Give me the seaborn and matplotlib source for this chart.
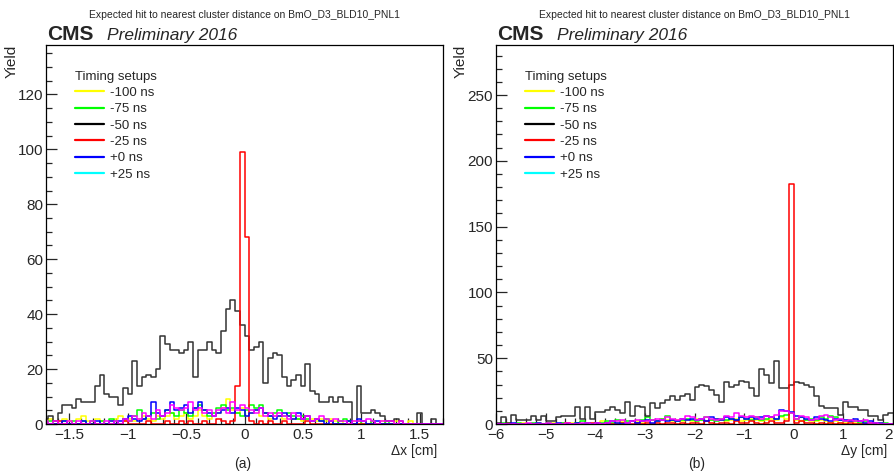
import numpy as np
import seaborn as sns
import matplotlib.pyplot as plt
from matplotlib.lines import Line2D
from matplotlib.ticker import MultipleLocator, FuncFormatter

sns.set_style('ticks')
plt.rcParams['font.family'] = ['Liberation Sans', 'DejaVu Sans']

############ DATA ############

setups = ['-100 ns', '-75 ns', '-50 ns', '-25 ns', '+0 ns', '+25 ns']
legend_colors = ['#ffff00', '#00ff00', '#000000', '#ff0000', '#0000ff', '#00ffff']
# the +25 ns histogram is drawn in magenta on the plot itself
line_colors = ['#ffff00', '#00ff00', '#333333', '#ff0000', '#0000ff', '#ff00ff']

# panel (a): delta x, 86 bins of 0.04 cm from -1.72 to 1.72
dx_lo, dx_hi, dx_nbins = -1.72, 1.72, 86
dx_yellow = [1, 2, 1, 0, 2, 1, 0, 2, 3, 1,
             0, 2, 1, 0, 1, 2, 3, 1, 2, 1,
             2, 3, 2, 1, 3, 2, 3, 4, 2, 3,
             4, 2, 3, 5, 3, 2, 3, 4, 6, 9,
             5, 4, 6, 3, 4, 5, 3, 4, 2, 3,
             3, 2, 3, 2, 2, 1, 3, 2, 1, 2,
             1, 2, 1, 1, 0, 1, 1, 0, 1, 0,
             1, 0, 1, 0, 0, 1, 0, 0, 1, 0,
             0, 0, 0, 0, 0, 0]
dx_green = [0, 1, 0, 0, 1, 0, 1, 0, 1, 0,
            1, 0, 1, 0, 2, 1, 0, 2, 1, 3,
            5, 2, 3, 4, 2, 3, 5, 4, 3, 5,
            4, 3, 6, 7, 5, 3, 4, 6, 7, 5,
            6, 4, 3, 5, 7, 6, 7, 4, 3, 4,
            5, 3, 4, 3, 2, 3, 2, 1, 2, 1,
            2, 1, 0, 1, 2, 1, 0, 1, 0, 0,
            1, 0, 0, 1, 0, 0, 0, 0, 0, 0,
            0, 0, 0, 0, 0, 0]
dx_black = [2, 3, 1, 4, 7, 7, 6, 9, 8, 8,
            8, 14, 18, 11, 10, 10, 7, 13, 11, 23,
            14, 17, 18, 17, 20, 32, 29, 27, 27, 26,
            27, 30, 17, 27, 27, 30, 27, 26, 34, 42,
            45, 41, 36, 32, 27, 28, 30, 15, 24, 26,
            25, 17, 14, 16, 18, 14, 22, 12, 11, 8,
            8, 10, 8, 10, 8, 8, 0, 14, 4, 4,
            5, 4, 3, 1, 1, 2, 1, 0, 0, 0,
            4, 0, 0, 2, 0, 0]
dx_red = [0, 0, 0, 1, 0, 0, 0, 0, 0, 0,
          0, 0, 0, 0, 0, 0, 0, 1, 0, 0,
          0, 0, 1, 0, 0, 0, 1, 0, 0, 1,
          0, 1, 0, 0, 1, 0, 0, 2, 1, 0,
          1, 14, 99, 68, 1, 0, 1, 0, 1, 0,
          0, 1, 0, 0, 0, 0, 1, 0, 0, 0,
          0, 0, 0, 0, 0, 0, 0, 0, 0, 0,
          0, 0, 0, 0, 0, 0, 0, 0, 0, 0,
          0, 0, 0, 0, 0, 0]
dx_blue = [0, 0, 0, 0, 1, 0, 0, 0, 1, 0,
           0, 1, 0, 0, 1, 0, 1, 2, 3, 2,
           1, 2, 3, 8, 4, 3, 5, 8, 5, 6,
           7, 4, 6, 8, 5, 4, 3, 4, 5, 6,
           4, 6, 5, 3, 4, 5, 6, 4, 3, 2,
           3, 4, 3, 2, 4, 2, 3, 1, 2, 1,
           0, 1, 0, 0, 0, 1, 0, 2, 1, 0,
           0, 1, 0, 0, 0, 0, 0, 0, 0, 0,
           0, 0, 0, 0, 0, 0]
dx_magenta = [1, 0, 1, 0, 0, 1, 0, 1, 0, 0,
              1, 0, 0, 1, 0, 1, 0, 2, 1, 3,
              2, 4, 3, 2, 5, 3, 4, 7, 6, 5,
              6, 8, 5, 6, 4, 5, 3, 5, 6, 4,
              8, 5, 7, 6, 5, 4, 6, 3, 4, 3,
              4, 3, 2, 4, 3, 2, 3, 1, 2, 3,
              2, 1, 2, 1, 1, 0, 1, 1, 1, 2,
              1, 0, 1, 1, 1, 0, 1, 0, 0, 0,
              0, 0, 0, 0, 0, 0]

# panel (b): delta y, 80 bins of 0.1 cm from -6 to 2
dy_lo, dy_hi, dy_nbins = -6.0, 2.0, 80
dy_yellow = [0, 0, 1, 0, 0, 1, 0, 0, 1, 0,
             0, 1, 0, 1, 0, 1, 1, 0, 1, 0,
             1, 2, 1, 0, 1, 2, 1, 2, 2, 1,
             2, 3, 2, 4, 3, 2, 3, 2, 3, 2,
             4, 3, 2, 3, 4, 3, 2, 3, 4, 2,
             3, 4, 3, 2, 3, 4, 3, 5, 4, 8,
             3, 2, 3, 2, 2, 3, 2, 1, 2, 1,
             1, 2, 1, 0, 1, 1, 0, 1, 0, 0]
dy_green = [0, 1, 0, 0, 1, 0, 0, 1, 0, 0,
            1, 0, 0, 1, 1, 0, 1, 2, 1, 0,
            1, 1, 2, 1, 3, 1, 2, 2, 1, 3,
            5, 3, 2, 4, 6, 3, 2, 3, 4, 3,
            2, 3, 5, 3, 2, 4, 3, 4, 3, 5,
            4, 3, 5, 3, 4, 5, 4, 6, 7, 8,
            4, 5, 3, 4, 3, 5, 4, 6, 5, 3,
            2, 3, 2, 1, 2, 1, 1, 0, 1, 0]
dy_black = [1, 5, 1, 7, 3, 3, 3, 6, 3, 6,
            2, 2, 5, 6, 6, 6, 13, 4, 13, 4,
            9, 9, 11, 13, 11, 8, 17, 6, 14, 13,
            6, 16, 12, 16, 18, 21, 18, 21, 23, 18,
            28, 30, 29, 26, 22, 17, 32, 28, 30, 33,
            32, 27, 21, 42, 37, 31, 48, 27, 27, 30,
            32, 31, 30, 28, 21, 14, 12, 12, 12, 7,
            17, 13, 13, 11, 11, 6, 6, 3, 7, 8]
dy_red = [0, 0, 0, 0, 0, 0, 0, 0, 0, 0,
          0, 0, 0, 0, 1, 0, 0, 0, 0, 1,
          0, 0, 1, 0, 0, 1, 0, 0, 1, 0,
          1, 0, 1, 0, 1, 1, 0, 1, 0, 1,
          1, 0, 2, 1, 0, 1, 1, 0, 2, 1,
          1, 2, 1, 0, 1, 2, 1, 1, 2, 182,
          1, 2, 1, 1, 0, 1, 0, 1, 0, 1,
          0, 1, 0, 0, 0, 1, 0, 0, 0, 0]
dy_blue = [0, 0, 0, 1, 0, 0, 0, 0, 1, 0,
           0, 0, 1, 0, 0, 0, 1, 0, 1, 0,
           1, 0, 1, 2, 1, 0, 1, 2, 1, 2,
           3, 1, 2, 3, 2, 3, 2, 4, 3, 4,
           3, 4, 2, 5, 4, 3, 5, 4, 3, 5,
           4, 5, 4, 5, 6, 5, 4, 11, 10, 9,
           6, 5, 4, 3, 5, 4, 3, 2, 4, 3,
           3, 2, 4, 2, 1, 2, 1, 1, 0, 0]
dy_magenta = [0, 0, 0, 0, 0, 0, 1, 0, 0, 0,
              1, 0, 0, 0, 1, 0, 0, 1, 1, 0,
              1, 0, 1, 2, 2, 3, 1, 2, 3, 2,
              2, 3, 4, 3, 5, 4, 3, 4, 6, 5,
              3, 4, 5, 4, 3, 4, 6, 5, 8, 6,
              5, 6, 5, 4, 6, 5, 7, 10, 10, 8,
              4, 6, 5, 3, 4, 6, 7, 5, 3, 4,
              2, 3, 2, 2, 3, 1, 1, 0, 0, 0]

title = 'Expected hit to nearest cluster distance on BmO_D3_BLD10_PNL1'

############ PLOT ############

fig = plt.figure(figsize=(8.94, 4.75), dpi=100)
ax_a = fig.add_axes([46 / 894, 1 - 424 / 475, 397 / 894, 379 / 475])
ax_b = fig.add_axes([496 / 894, 1 - 424 / 475, 397 / 894, 379 / 475])

# ROOT style labels: 1, 0.5, -1.5 (no trailing .0)
root_fmt = FuncFormatter(lambda v, pos: f'{v:g}'.replace('-', '\u2212'))


def draw_panel(ax, edges, series, xlim, ymax, xmajor, xminor, ymajor, yminor, xlabel, ylabel_x):
    centers = (edges[:-1] + edges[1:]) / 2
    for vals, col in zip(series, line_colors):
        sns.histplot(x=centers, weights=np.asarray(vals, dtype=float), bins=edges.tolist(),
                     element='step', fill=False, color=col, linewidth=1.1, ax=ax)
    ax.set_xlim(*xlim)
    ax.set_ylim(0, ymax)
    ax.xaxis.set_major_locator(MultipleLocator(xmajor))
    ax.xaxis.set_minor_locator(MultipleLocator(xminor))
    ax.yaxis.set_major_locator(MultipleLocator(ymajor))
    ax.yaxis.set_minor_locator(MultipleLocator(yminor))
    ax.xaxis.set_major_formatter(root_fmt)
    ax.tick_params(which='both', direction='in', top=False, right=False, width=0.9, labelsize=11)
    ax.tick_params(which='major', length=8)
    ax.tick_params(which='minor', length=4)
    ax.tick_params(axis='y', pad=2)
    ax.tick_params(axis='x', pad=3)
    for sp in ax.spines.values():
        sp.set_visible(True)
        sp.set_color('black')
        sp.set_linewidth(0.9)

    ax.set_xlabel(xlabel, fontsize=10, loc='right')
    ax.xaxis.set_label_coords(0.986, -0.052)
    ax.set_ylabel('Yield', fontsize=11, loc='top')
    ax.yaxis.set_label_coords(ylabel_x, 1.0)

    ax.text(0.5, 1.072, title, transform=ax.transAxes, ha='center', va='baseline', fontsize=7.5)
    ax.text(0.002, 1.013, 'CMS', transform=ax.transAxes, ha='left', va='baseline',
            fontsize=15, fontweight='bold')
    ax.text(0.154, 1.013, 'Preliminary 2016', transform=ax.transAxes, ha='left', va='baseline',
            fontsize=12.5, style='italic')

    handles = [Line2D([], [], color=c, lw=1.6) for c in legend_colors]
    ax.legend(handles, setups, title='Timing setups', loc='upper left',
              bbox_to_anchor=(0.072, 0.932), frameon=False, fontsize=9.5, title_fontsize=9.5,
              handlelength=2.2, handletextpad=0.45, labelspacing=0.31, borderpad=0,
              borderaxespad=0, alignment='left')


draw_panel(ax_a, np.linspace(dx_lo, dx_hi, dx_nbins + 1),
           [dx_yellow, dx_green, dx_black, dx_red, dx_blue, dx_magenta],
           (-1.7, 1.7), 138, 0.5, 0.1, 20, 5, 'Δx [cm]', -0.068)
draw_panel(ax_b, np.linspace(dy_lo, dy_hi, dy_nbins + 1),
           [dy_yellow, dy_green, dy_black, dy_red, dy_blue, dy_magenta],
           (-6, 2), 288, 1, 0.2, 50, 10, 'Δy [cm]', -0.072)

# last tick label on panel (b) sits at the picture edge: right-align it
fig.canvas.draw()
for tick in ax_b.xaxis.get_major_ticks():
    if abs(tick.get_loc() - dy_hi) < 1e-9:
        tick.label1.set_horizontalalignment('right')
        tick.label1.set_x(tick.label1.get_position()[0])

fig.text(243 / 894, 1 - 464 / 475, '(a)', ha='center', va='center', fontsize=10)
fig.text(697 / 894, 1 - 464 / 475, '(b)', ha='center', va='center', fontsize=10)

fig.savefig('out.png', dpi=100)
plt.close()
